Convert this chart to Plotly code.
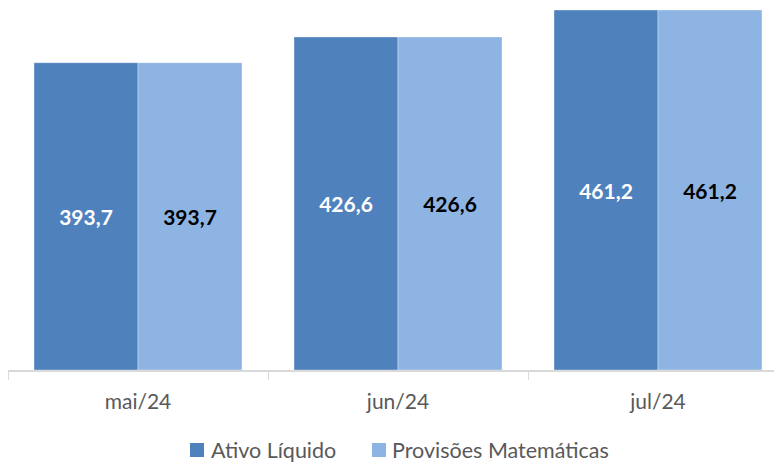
import plotly.graph_objects as go

categories = ["mai/24", "jun/24", "jul/24"]
ativo_liquido = [393.7, 426.6, 461.2]
provisoes = [393.7, 426.6, 461.2]
series_names = ["Ativo Líquido", "Provisões Matemáticas"]
series_colors = ["#4F81BD", "#8EB4E3"]
label_colors = ["white", "black"]

FONT = "Lato, 'Open Sans', sans-serif"
GRAY = "#595959"

fig = go.Figure()
for name, vals, col, lcol in zip(series_names, [ativo_liquido, provisoes], series_colors, label_colors):
    fig.add_trace(go.Bar(
        x=categories, y=vals, name=name,
        marker=dict(color=col, line=dict(color="rgba(255,255,255,0.35)", width=1)),
        texttemplate="%{y:.1f}", textposition="inside", insidetextanchor="middle",
        textfont=dict(color=lcol, size=21, family=FONT, weight="bold"),
        showlegend=False,
    ))

# page is rendered with an 8px body offset
OFF = 8
W, H = 774, 458
ml, mr, mt, mb = 0, 0, 2, 96
plot_w = W - ml - mr
plot_h = H - mt - mb
cat_px = 260


def xp(px):
    return (px - OFF - ml) / plot_w


def yp(py):
    return (OFF + mt + plot_h - py) / plot_h


# custom legend (square swatch + text)
legend_items = [(190, 209), (372, 390)]
shapes = []
annotations = []
for (sx, tx), name, col in zip(legend_items, series_names, series_colors):
    shapes.append(dict(type="rect", xref="paper", yref="paper",
                       x0=xp(sx), x1=xp(sx + 14), y0=yp(457), y1=yp(443),
                       fillcolor=col, line=dict(width=0)))
    annotations.append(dict(text=name, xref="paper", yref="paper",
                            x=xp(tx), y=yp(450), xanchor="left", yanchor="middle",
                            showarrow=False, font=dict(size=21.5, color=GRAY, family=FONT)))

fig.update_layout(
    width=W, height=H,
    margin=dict(l=ml, r=mr, t=mt, b=mb, autoexpand=False),
    paper_bgcolor="white", plot_bgcolor="white",
    barmode="group", bargap=0.2, bargroupgap=0,
    separators=",.",
    font=dict(family=FONT, color=GRAY),
    showlegend=False,
    shapes=shapes, annotations=annotations,
)
fig.update_xaxes(
    type="category", range=[-0.5, -0.5 + plot_w / cat_px],
    showline=True, linecolor="#D9D9D9", linewidth=1.5,
    ticks="outside", tickson="boundaries", ticklen=8, tickcolor="#D9D9D9",
    ticklabelstandoff=12,
    tickfont=dict(size=21, color=GRAY, family=FONT),
    showgrid=False, zeroline=False, automargin=False,
)
fig.update_yaxes(range=[0, 461.2], visible=False, showgrid=False, zeroline=False)

fig.write_html("out.html")
